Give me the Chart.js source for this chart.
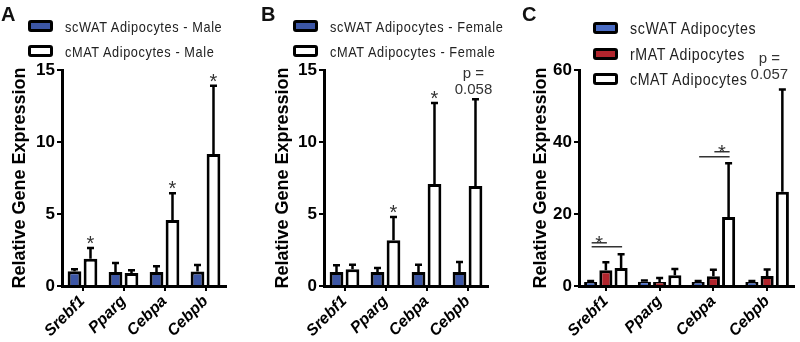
<!DOCTYPE html>
<html>
<head>
<meta charset="utf-8">
<script src="https://cdn.jsdelivr.net/npm/chart.js@4.4.1/dist/chart.umd.min.js"></script>
<style>
  html, body { margin: 0; padding: 0; background: #fff; }
  #wrap { position: relative; width: 800px; height: 342px; overflow: hidden; background: #fff; }
  canvas { position: absolute; top: 0; }
  .letter { position: absolute; font: bold 20px "Liberation Sans", Arial, sans-serif; color: #111; }
  .leg { position: absolute; font-family: "Liberation Sans", Arial, sans-serif; color: #222; white-space: nowrap; line-height: 1; transform-origin: 0 50%; }
  .box { position: absolute; box-sizing: border-box; border: 3px solid #000; border-radius: 3px; }
</style>
</head>
<body>
<div id="wrap">
  <canvas id="cA" width="265" height="342" style="left:0px"></canvas>
  <canvas id="cB" width="265" height="342" style="left:265px"></canvas>
  <canvas id="cC" width="270" height="342" style="left:530px"></canvas>
  <div id="legends"></div>
</div>
<script>
// ---------- data ----------
const genes = ['Srebf1', 'Pparg', 'Cebpa', 'Cebpb'];

// Panel A (male)
const maleScwat    = [1.02, 0.97, 0.97, 1.00];
const maleScwatErr = [0.14, 0.63, 0.40, 0.46];
const maleCmat     = [1.90, 0.90, 4.58, 9.17];
const maleCmatErr  = [0.74, 0.19, 1.86, 4.73];

// Panel B (female)
const femaleScwat    = [0.97, 0.97, 0.97, 0.97];
const femaleScwatErr = [0.47, 0.28, 0.51, 0.70];
const femaleCmat     = [1.16, 3.17, 7.08, 6.94];
const femaleCmatErr  = [0.32, 1.63, 5.62, 6.03];

// Panel C
const cScwat    = [1.1, 1.2, 1.1, 1.1];
const cScwatErr = [0.3, 0.3, 0.3, 0.3];
const cRmat     = [4.35, 1.1, 2.7, 2.8];
const cRmatErr  = [2.25, 1.1, 1.8, 1.8];
const cCmat     = [5.0, 3.0, 19.2, 26.2];
const cCmatErr  = [3.8, 1.7, 14.9, 28.4];

const yTicksAB = [0, 5, 10, 15];
const yTicksC  = [0, 20, 40, 60];

const legendA = ['scWAT Adipocytes - Male', 'cMAT Adipocytes - Male'];
const legendB = ['scWAT Adipocytes - Female', 'cMAT Adipocytes - Female'];
const legendC = ['scWAT Adipocytes', 'rMAT Adipocytes', 'cMAT Adipocytes'];

// significance marks: dataset index, category index
const starsA = [[1, 0], [1, 2], [1, 3]];
const starsB = [[1, 1], [1, 2]];
const pTextB = [[1, 3, ['p =', '0.058']]];
const pTextC = [[2, 3, ['p =', '0.057']]];
// brackets in C: category, from dataset, to dataset, y value, star
const bracketsC = [[0, 0, 1, 12.0, true], [0, 0, 2, 10.9, false], [2, 1, 2, 37.3, true], [2, 0, 2, 35.9, false]];

// ---------- styles ----------
const BLUE_AB = '#3c56a6';
const BLUE_C = '#4a6cc4';
const RED_C = '#b1252d';
const FONT = '"Liberation Sans", Arial, sans-serif';

const marksPlugin = {
  id: 'marks',
  afterDatasetsDraw(chart, args, opts) {
    const ctx = chart.ctx;
    const y = chart.scales.y;
    ctx.save();
    // error bars (upper half only)
    chart.data.datasets.forEach((ds, i) => {
      const meta = chart.getDatasetMeta(i);
      meta.data.forEach((el, j) => {
        const top = y.getPixelForValue(ds.data[j] + ds.errors[j]);
        ctx.strokeStyle = '#000';
        ctx.lineWidth = 2.5;
        ctx.beginPath();
        ctx.moveTo(el.x, el.y);
        ctx.lineTo(el.x, top);
        ctx.moveTo(el.x - 3.5, top);
        ctx.lineTo(el.x + 3.5, top);
        ctx.stroke();
      });
    });
    const capPix = (di, ci) => {
      const ds = chart.data.datasets[di];
      return y.getPixelForValue(ds.data[ci] + ds.errors[ci]);
    };
    ctx.fillStyle = '#333';
    ctx.textAlign = 'center';
    (opts.stars || []).forEach(([di, ci]) => {
      const el = chart.getDatasetMeta(di).data[ci];
      ctx.font = '20px ' + FONT;
      ctx.textBaseline = 'alphabetic';
      ctx.fillText('*', el.x, capPix(di, ci) + 2);
    });
    (opts.ptext || []).forEach(([di, ci, lines]) => {
      const el = chart.getDatasetMeta(di).data[ci];
      ctx.font = '15px ' + FONT;
      ctx.textBaseline = 'middle';
      const base = capPix(di, ci) - opts.pGap;
      for (let k = lines.length - 1, n = 0; k >= 0; k--, n++) {
        ctx.fillText(lines[k], el.x + (opts.pDx || 0), base - n * 16);
      }
    });
    (opts.brackets || []).forEach(([ci, d0, d1, yv, star]) => {
      const x0 = chart.getDatasetMeta(d0).data[ci].x + 1;
      const x1 = chart.getDatasetMeta(d1).data[ci].x + 1;
      const yy = y.getPixelForValue(yv);
      ctx.strokeStyle = '#333';
      ctx.lineWidth = 1.5;
      ctx.beginPath();
      ctx.moveTo(x0, yy);
      ctx.lineTo(x1, yy);
      ctx.stroke();
      if (star) {
        ctx.font = '20px ' + FONT;
        ctx.textBaseline = 'alphabetic';
        ctx.fillText('*', (x0 + x1) / 2, yy + 7);
      }
    });
    ctx.restore();
  }
};

function makeChart(id, datasets, o) {
  return new Chart(document.getElementById(id), {
    type: 'bar',
    data: { labels: genes, datasets },
    plugins: [marksPlugin],
    options: {
      responsive: false,
      animation: false,
      events: [],
      layout: { padding: { top: 70, right: o.right, left: 0, bottom: 0 } },
      plugins: { legend: { display: false }, tooltip: { enabled: false }, marks: o.marks },
      datasets: { bar: { categoryPercentage: o.cat, barPercentage: o.bar } },
      scales: {
        x: {
          afterFit: (s) => { s.height = 56; },
          grid: { display: true, drawOnChartArea: false, drawTicks: true, tickLength: 5, offset: false, color: '#000', lineWidth: 2 },
          border: { display: true, color: '#000', width: 3 },
          ticks: { color: '#000', font: { family: FONT, size: 16, weight: 'bold', style: 'italic' }, minRotation: 45, maxRotation: 45, autoSkip: false, padding: 1 }
        },
        y: {
          min: 0, max: o.max,
          afterFit: (s) => { s.width = o.yw; },
          afterBuildTicks: (s) => { s.ticks = o.ticks.map(v => ({ value: v })); },
          grid: { display: true, drawOnChartArea: false, drawTicks: true, tickLength: 5, color: '#000', lineWidth: 2 },
          border: { display: true, color: '#000', width: 3 },
          ticks: { color: '#000', font: { family: FONT, size: 17, weight: 'bold' }, padding: 2 },
          title: { display: true, text: 'Relative Gene Expression', color: '#000', font: { family: FONT, size: 18, weight: 'bold' }, padding: { top: o.tp, bottom: 0 } }
        }
      }
    }
  });
}

const barStyle = (fill) => ({ backgroundColor: fill, borderColor: '#000', borderWidth: 3, borderSkipped: 'start' });

makeChart('cA', [
  Object.assign({ label: legendA[0], data: maleScwat, errors: maleScwatErr }, barStyle(BLUE_AB)),
  Object.assign({ label: legendA[1], data: maleCmat, errors: maleCmatErr }, barStyle('#fff'))
], { right: 265 - 62 - 164, yw: 62, max: 15, ticks: yTicksAB, tp: 9, cat: 0.78, bar: 0.86,
     marks: { stars: starsA } });

makeChart('cB', [
  Object.assign({ label: legendB[0], data: femaleScwat, errors: femaleScwatErr }, barStyle(BLUE_AB)),
  Object.assign({ label: legendB[1], data: femaleCmat, errors: femaleCmatErr }, barStyle('#fff'))
], { right: 265 - 59 - 164, yw: 59, max: 15, ticks: yTicksAB, tp: 7, cat: 0.78, bar: 0.86,
     marks: { stars: starsB, ptext: pTextB, pGap: 9, pDx: -2 } });

makeChart('cC', [
  Object.assign({ label: legendC[0], data: cScwat, errors: cScwatErr }, barStyle(BLUE_C)),
  Object.assign({ label: legendC[1], data: cRmat, errors: cRmatErr }, barStyle(RED_C)),
  Object.assign({ label: legendC[2], data: cCmat, errors: cCmatErr }, barStyle('#fff'))
], { right: 270 - 49 - 215, yw: 49, max: 60, ticks: yTicksC, tp: 0, cat: 0.85, bar: 0.86,
     marks: { ptext: pTextC, pGap: 15, pDx: -13, brackets: bracketsC } });

// ---------- legends & panel letters (HTML text) ----------
const L = document.getElementById('legends');
function addText(cls, txt, left, top, extra) {
  const d = document.createElement('div');
  d.className = cls; d.textContent = txt;
  d.style.left = left + 'px'; d.style.top = top + 'px';
  Object.assign(d.style, extra || {});
  L.appendChild(d);
}
function addBox(fill, left, top, w, h) {
  const d = document.createElement('div');
  d.className = 'box';
  Object.assign(d.style, { left: left + 'px', top: top + 'px', width: w + 'px', height: h + 'px', background: fill });
  L.appendChild(d);
}
addText('letter', 'A', 1, 3);
addText('letter', 'B', 261, 3);
addText('letter', 'C', 522, 3);

const legStyleAB = { fontSize: '15px', letterSpacing: '0.7px', transform: 'scaleX(0.85)' };
[[legendA, 28, 65], [legendB, 293, 330]].forEach(([items, bx, tx]) => {
  items.forEach((t, k) => {
    addBox(k === 0 ? BLUE_AB : '#fff', bx, 20 + k * 25, 25, 12);
    addText('leg', t, tx, 19 + k * 25, legStyleAB);
  });
});
const fillsC = [BLUE_C, RED_C, '#fff'];
legendC.forEach((t, k) => {
  addBox(fillsC[k], 593, 22 + k * 25.5, 25, 12);
  addText('leg', t, 630, 20 + k * 25.5, { fontSize: '16.5px', letterSpacing: '0.7px', transform: 'scaleX(0.86)' });
});
</script>
</body>
</html>
